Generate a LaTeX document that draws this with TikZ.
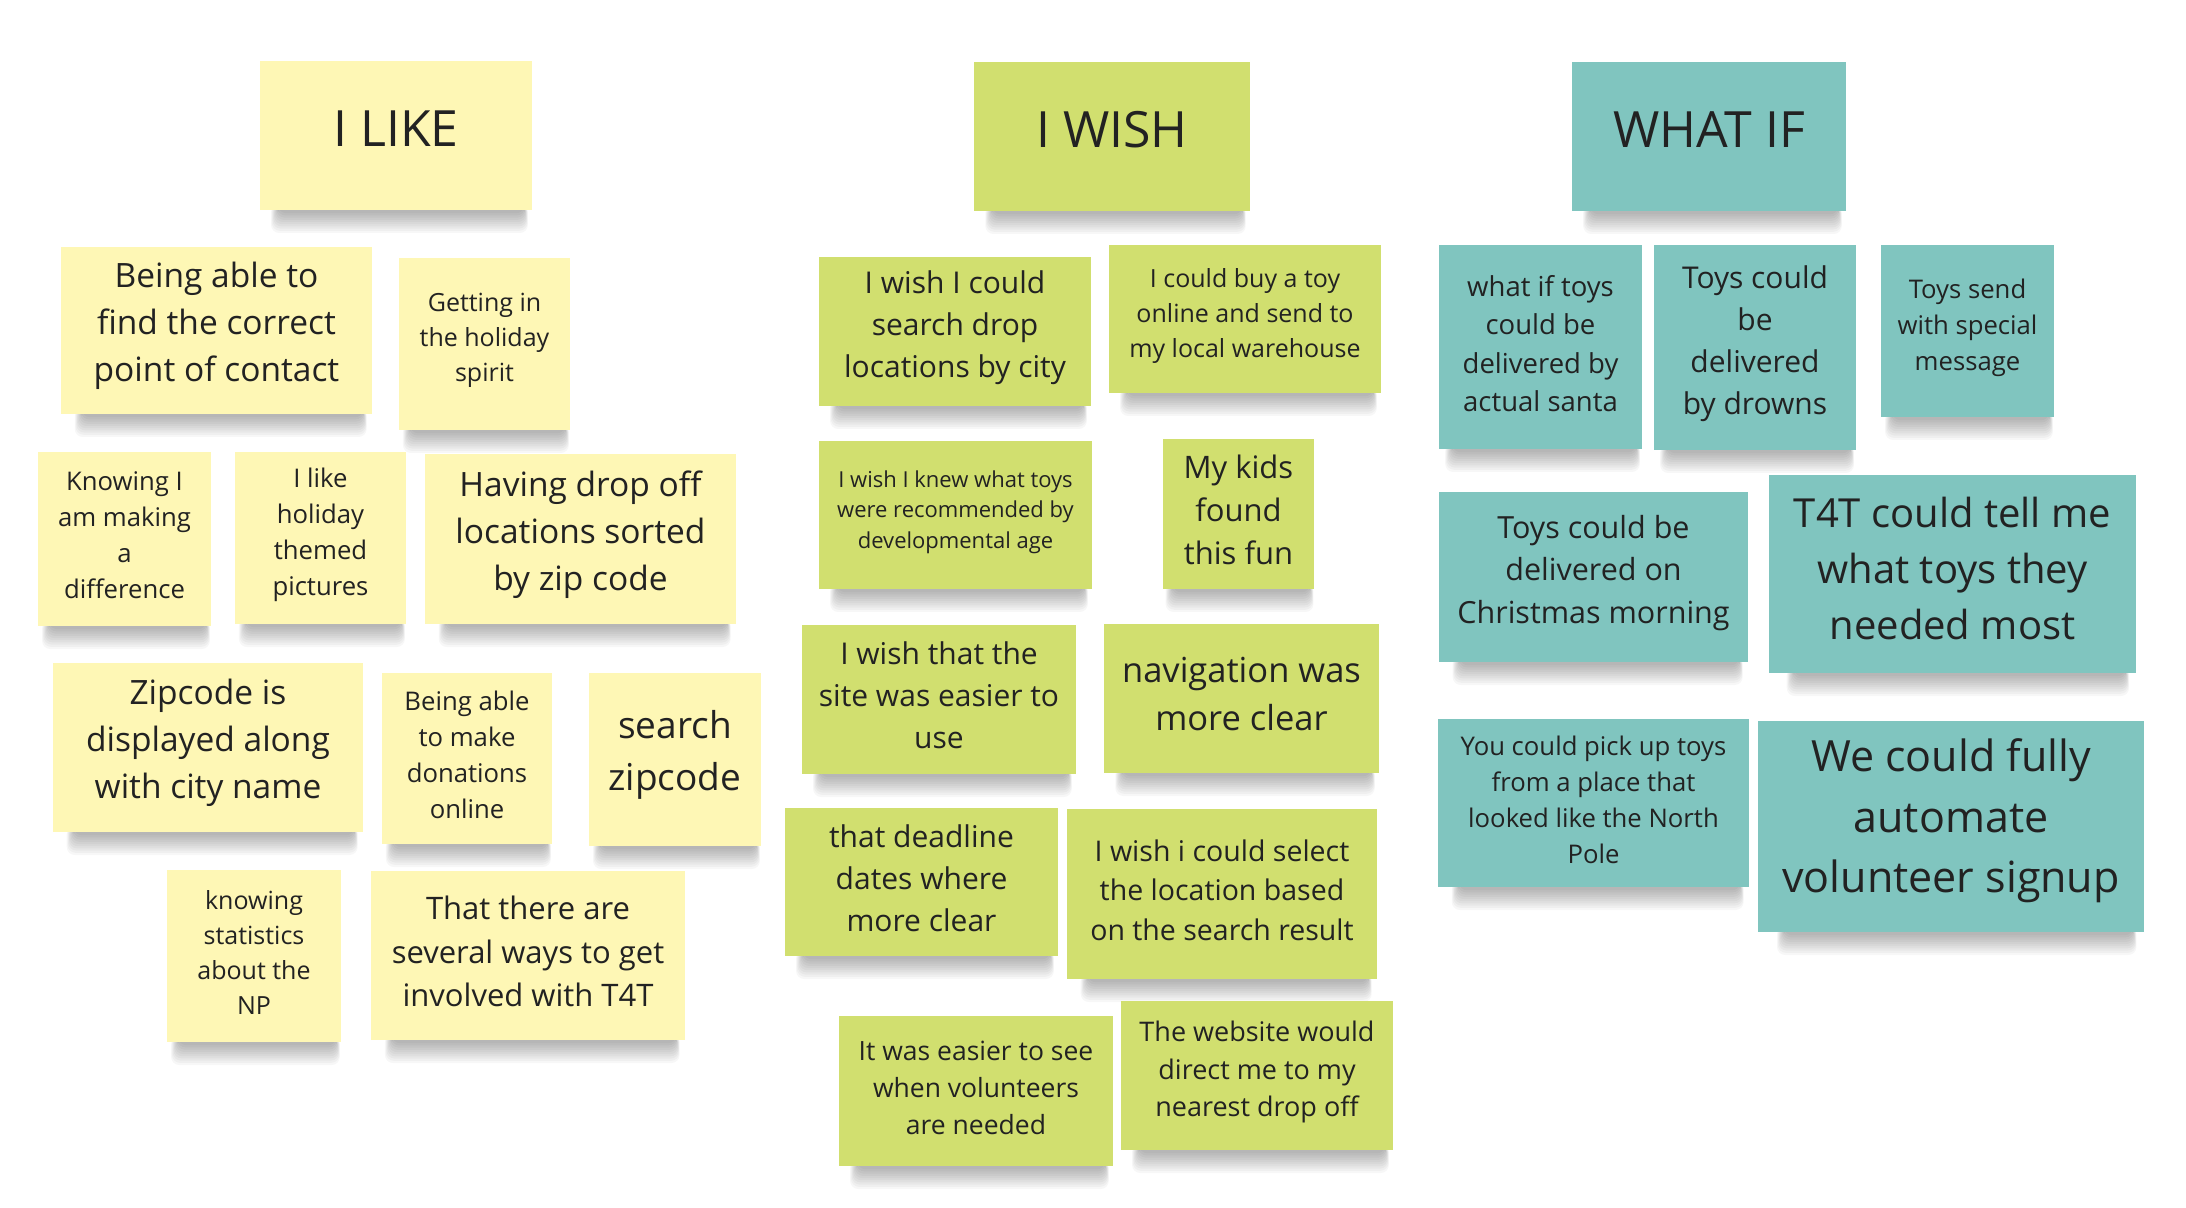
\documentclass[tikz,border=0pt]{standalone}
\usepackage{fontspec}
\setmainfont{Open Sans}
\usetikzlibrary{calc}

\definecolor{likeyellow}{HTML}{FEF7B5}
\definecolor{wishgreen}{HTML}{D1DF6F}
\definecolor{whatifteal}{HTML}{80C5BF}
\definecolor{inktext}{HTML}{222222}

\tikzset{
  note/.style={rectangle, draw=none, inner sep=0pt},
  notetext/.style={inner sep=0pt, align=center, text=inktext},
}

% \stickynote{name}{x1}{y1}{x2}{y2}{colour}{font size px}{text}
\newcommand\stickynote[8]{%
  \pgfmathsetmacro\nw{(#4-#2)*0.5}%
  \pgfmathsetmacro\nh{(#5-#3)*0.5}%
  \pgfmathsetmacro\fs{#7*0.5}%
  \pgfmathsetmacro\bs{#7*0.5*1.4}%
  \pgfmathsetmacro\lift{#7*0.5*0.13}%
  \foreach \k in {1,...,10}{%
    \fill[black, opacity=0.032, rounded corners=4pt]
      ({#2+0.07*(#4-#2)-\k*0.8}, {#5-6}) rectangle ({#4-0.03*(#4-#2)+\k*0.4}, {#5+1+\k*2.2});
  }%
  \node[note, fill=#6, minimum width=\nw pt, minimum height=\nh pt] (#1) at ({(#2+#4)/2},{(#3+#5)/2}) {};
  \node[notetext, font=\fontsize{\fs pt}{\bs pt}\selectfont] (#1-text) at ([yshift=\lift pt]#1.center) {#8};
}

\begin{document}
\begin{tikzpicture}[x=0.5pt, y=-0.5pt]
\useasboundingbox[fill=white] (0,0) rectangle (2186,1208);

% I LIKE
\stickynote{ilike}{260}{61}{532}{210}{likeyellow}{50}{I LIKE}
\stickynote{contact}{61}{247}{372}{414}{likeyellow}{33.5}{Being able to\\find the correct\\point of contact}
\stickynote{spirit}{399}{258}{570}{430}{likeyellow}{25}{Getting in\\the holiday\\spirit}
\stickynote{difference}{38}{452}{211}{626}{likeyellow}{25.7}{Knowing I\\am making\\a\\difference}
\stickynote{pictures}{235}{452}{406}{624}{likeyellow}{25.7}{I like\\holiday\\themed\\pictures}
\stickynote{zipsort}{425}{454}{736}{624}{likeyellow}{33.5}{Having drop off\\locations sorted\\by zip code}
\stickynote{cityname}{53}{663}{363}{832}{likeyellow}{33.5}{Zipcode is\\displayed along\\with city name}
\stickynote{donations}{382}{673}{552}{844}{likeyellow}{25.7}{Being able\\to make\\donations\\online}
\stickynote{searchzip}{589}{673}{761}{846}{likeyellow}{37}{search\\zipcode}
\stickynote{statistics}{167}{870}{341}{1042}{likeyellow}{25}{knowing\\statistics\\about the\\NP}
\stickynote{ways}{371}{871}{685}{1040}{likeyellow}{31}{That there are\\several ways to get\\involved with T4T}

% I WISH
\stickynote{iwish}{974}{62}{1250}{211}{wishgreen}{50}{I WISH}
\stickynote{bycity}{819}{257}{1091}{406}{wishgreen}{30}{I wish I could\\search drop\\locations by city}
\stickynote{warehouse}{1109}{245}{1381}{393}{wishgreen}{25}{I could buy a toy\\online and send to\\my local warehouse}
\stickynote{devage}{819}{441}{1092}{589}{wishgreen}{22}{I wish I knew what toys\\were recommended by\\developmental age}
\stickynote{kids}{1163}{439}{1314}{589}{wishgreen}{31}{My kids\\found\\this fun}
\stickynote{easier}{802}{625}{1076}{774}{wishgreen}{30}{I wish that the\\site was easier to\\use}
\stickynote{navigation}{1104}{624}{1379}{773}{wishgreen}{34.5}{navigation was\\more clear}
\stickynote{deadline}{785}{808}{1058}{956}{wishgreen}{30}{that deadline\\dates where\\more clear}
\stickynote{select}{1067}{809}{1377}{979}{wishgreen}{28.5}{I wish i could select\\the location based\\on the search result}
\stickynote{volunteers}{839}{1016}{1113}{1166}{wishgreen}{26.5}{It was easier to see\\when volunteers\\are needed}
\stickynote{nearest}{1121}{1001}{1393}{1150}{wishgreen}{27}{The website would\\direct me to my\\nearest drop off}

% WHAT IF
\stickynote{whatif}{1572}{62}{1846}{211}{whatifteal}{50}{WHAT IF}
\stickynote{santa}{1439}{245}{1642}{449}{whatifteal}{27.5}{what if toys\\could be\\delivered by\\actual santa}
\stickynote{drowns}{1654}{245}{1856}{450}{whatifteal}{30}{Toys could\\be\\delivered\\by drowns}
\stickynote{message}{1881}{245}{2054}{417}{whatifteal}{25.7}{Toys send\\with special\\message}
\stickynote{christmas}{1439}{492}{1748}{662}{whatifteal}{30.5}{Toys could be\\delivered on\\Christmas morning}
\stickynote{mostneeded}{1769}{475}{2136}{673}{whatifteal}{40}{T4T could tell me\\what toys they\\needed most}
\stickynote{northpole}{1438}{719}{1749}{887}{whatifteal}{25.7}{You could pick up toys\\from a place that\\looked like the North\\Pole}
\stickynote{signup}{1758}{721}{2144}{932}{whatifteal}{43}{We could fully\\automate\\volunteer signup}
\end{tikzpicture}
\end{document}
